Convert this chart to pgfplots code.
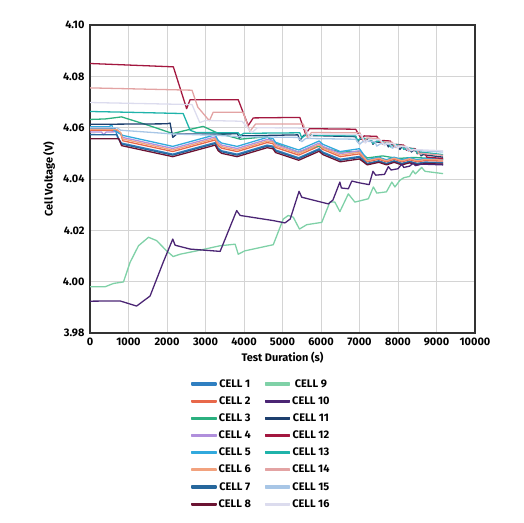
\documentclass[border=0pt]{standalone}
\usepackage{fontspec}
\setmainfont{Fira Sans}
\usepackage{pgfplots}
\pgfplotsset{compat=1.18}
\definecolor{c1}{HTML}{2F7FC1}
\definecolor{c2}{HTML}{E8684A}
\definecolor{c3}{HTML}{2BB07F}
\definecolor{c4}{HTML}{B08FDC}
\definecolor{c5}{HTML}{31A9DD}
\definecolor{c6}{HTML}{F2A27E}
\definecolor{c7}{HTML}{26679C}
\definecolor{c8}{HTML}{6B1332}
\definecolor{c9}{HTML}{7FD1A7}
\definecolor{c10}{HTML}{4B2574}
\definecolor{c11}{HTML}{1D3F6E}
\definecolor{c12}{HTML}{A3173F}
\definecolor{c13}{HTML}{1FB3AA}
\definecolor{c14}{HTML}{E3A3A3}
\definecolor{c15}{HTML}{A8C6E6}
\definecolor{c16}{HTML}{DCDCEE}
\begin{document}
\begin{tikzpicture}
\path[use as bounding box] (-90bp,-190bp) rectangle (434bp,333bp);
\begin{axis}[
  at={(0,0)}, anchor=south west,
  scale only axis, width=385bp, height=308bp,
  xmin=0, xmax=10000, ymin=3.98, ymax=4.10,
  xtick={0,1000,...,10000}, ytick={3.98,4.00,...,4.10},
  scaled x ticks=false, scaled y ticks=false,
  grid=major, grid style={draw=black!17, line width=1pt},
  axis line style={draw=black!80, line width=1.3pt},
  major tick length=0pt,
  /pgf/number format/assume math mode=true,
  xticklabel style={/pgf/number format/1000 sep={}, font=\bfseries\fontsize{11}{12}\selectfont, yshift=-1bp},
  yticklabel style={/pgf/number format/.cd, fixed, fixed zerofill, precision=2, /tikz/.cd, font=\bfseries\fontsize{11}{12}\selectfont, xshift=-2bp},
  xlabel={Test Duration (s)}, ylabel={Cell Voltage (V)},
  label style={font=\bfseries\fontsize{11}{13}\selectfont},
  xlabel style={yshift=0bp},
  ylabel style={yshift=1bp},
  every axis plot/.append style={line width=1.3pt, line join=round},
  legend columns=2,
  legend style={draw=none, fill=none, at={(0.255,-0.137)}, anchor=north west,
    font=\bfseries\fontsize{11}{13}\selectfont, row sep=3.9bp,
    /tikz/every even column/.append style={column sep=12bp}},
  legend image code/.code={\fill[#1] (0bp,-0.95bp) rectangle (24bp,0.95bp);},
]
% CELL 1
\addplot[c1, forget plot] coordinates {(0,4.0598) (650,4.0597) (720,4.0560) (820,4.0540) (2150,4.0497) (3250,4.0542) (3330,4.0520) (3420,4.0510) (3820,4.0497) (4600,4.0532) (4750,4.0528) (4820,4.0513) (5420,4.0483) (5950,4.0518) (6050,4.0505) (6500,4.0477) (7000,4.0488) (7200,4.0461) (7500,4.0471) (7700,4.0461) (7900,4.0471) (8100,4.0461) (8300,4.0469) (8500,4.0461) (8700,4.0466) (9170,4.0464)};
% CELL 2
\addplot[c2, forget plot] coordinates {(0,4.0590) (700,4.0589) (800,4.0575) (850,4.0549) (2150,4.0507) (3250,4.0552) (3330,4.0530) (3420,4.0520) (3820,4.0507) (4600,4.0542) (4750,4.0538) (4820,4.0523) (5420,4.0493) (5950,4.0528) (6050,4.0515) (6500,4.0487) (7000,4.0498) (7200,4.0467) (7500,4.0477) (7700,4.0467) (7900,4.0477) (8100,4.0467) (8300,4.0475) (8500,4.0467) (8700,4.0472) (9170,4.0470)};
% CELL 3
\addplot[c3, forget plot] coordinates {(0,4.0632) (400,4.0634) (820,4.0642) (1500,4.0610) (2150,4.0577) (2500,4.0590) (2940,4.0605) (3300,4.0580) (3900,4.0555) (4600,4.0565) (4800,4.0540) (5400,4.0505) (5900,4.0528) (6500,4.0505) (7000,4.0507) (7200,4.0482) (7600,4.0490) (8000,4.0480) (8400,4.0484) (9170,4.0478)};
% CELL 4
\addplot[c4, forget plot] coordinates {(0,4.0583) (300,4.0583) (350,4.0572) (420,4.0583) (700,4.0584) (800,4.0578) (850,4.0562) (2150,4.0519) (3250,4.0564) (3330,4.0542) (3420,4.0532) (3820,4.0519) (4600,4.0554) (4750,4.0550) (4820,4.0535) (5420,4.0505) (5950,4.0540) (6050,4.0527) (6500,4.0499) (7000,4.0510) (7200,4.0473) (7500,4.0483) (7700,4.0473) (7900,4.0483) (8100,4.0473) (8300,4.0481) (8500,4.0473) (8700,4.0478) (9170,4.0476)};
% CELL 5
\addplot[c5, forget plot] coordinates {(0,4.0603) (500,4.0603) (560,4.0612) (620,4.0590) (850,4.0570) (2150,4.0527) (3250,4.0572) (3330,4.0550) (3420,4.0540) (3820,4.0527) (4600,4.0562) (4750,4.0558) (4820,4.0543) (5420,4.0513) (5950,4.0548) (6050,4.0535) (6500,4.0507) (7000,4.0518) (7200,4.0475) (7500,4.0485) (7700,4.0475) (7900,4.0485) (8100,4.0475) (8300,4.0483) (8500,4.0475) (8700,4.0480) (9170,4.0478)};
% CELL 6
\addplot[c6, forget plot] coordinates {(0,4.0594) (700,4.0593) (800,4.0580) (850,4.0556) (2150,4.0513) (3250,4.0558) (3330,4.0536) (3420,4.0526) (3820,4.0513) (4600,4.0548) (4750,4.0544) (4820,4.0529) (5420,4.0499) (5950,4.0534) (6050,4.0521) (6500,4.0493) (7000,4.0504) (7200,4.0471) (7500,4.0481) (7700,4.0471) (7900,4.0481) (8100,4.0471) (8300,4.0479) (8500,4.0471) (8700,4.0476) (9170,4.0474)};
% CELL 7
\addplot[c7, forget plot] coordinates {(0,4.0573) (700,4.0572) (780,4.0545) (820,4.0536) (2150,4.0493) (3250,4.0538) (3330,4.0516) (3420,4.0506) (3820,4.0493) (4600,4.0528) (4750,4.0524) (4820,4.0509) (5420,4.0479) (5950,4.0514) (6050,4.0501) (6500,4.0473) (7000,4.0484) (7200,4.0459) (7500,4.0469) (7700,4.0459) (7900,4.0469) (8100,4.0459) (8300,4.0467) (8500,4.0459) (8700,4.0464) (9170,4.0462)};
% CELL 8
\addplot[c8, forget plot] coordinates {(0,4.0557) (750,4.0557) (820,4.0530) (2150,4.0487) (3250,4.0532) (3330,4.0510) (3420,4.0500) (3820,4.0487) (4600,4.0522) (4750,4.0518) (4820,4.0503) (5420,4.0473) (5950,4.0508) (6050,4.0495) (6500,4.0467) (7000,4.0478) (7200,4.0455) (7500,4.0465) (7700,4.0455) (7900,4.0465) (8100,4.0455) (8300,4.0463) (8500,4.0455) (8700,4.0460) (9170,4.0458)};
% CELL 9
\addplot[c9, forget plot] coordinates {(0,3.9980) (390,3.9980) (610,3.9993) (870,3.9999) (1040,4.0075) (1260,4.0140) (1520,4.0173) (1730,4.0160) (1990,4.0120) (2160,4.0098) (2340,4.0107) (2770,4.0120) (3380,4.0140) (3770,4.0146) (3850,4.0107) (4020,4.0120) (4760,4.0144) (5020,4.0244) (5150,4.0258) (5280,4.0251) (5440,4.0205) (5630,4.0222) (6020,4.0231) (6230,4.0310) (6360,4.0310) (6490,4.0273) (6710,4.0342) (6880,4.0310) (7230,4.0323) (7360,4.0369) (7450,4.0345) (7700,4.0350) (7840,4.0388) (7920,4.0369) (8050,4.0395) (8150,4.0405) (8300,4.0410) (8390,4.0432) (8450,4.0420) (8615,4.0445) (8700,4.0430) (9170,4.0421)};
% CELL 10
\addplot[c10, forget plot] coordinates {(0,3.9924) (780,3.9925) (1210,3.9905) (1560,3.9944) (1900,4.0075) (2150,4.0166) (2210,4.0142) (2600,4.0127) (3380,4.0118) (3810,4.0277) (3900,4.0258) (4760,4.0238) (5065,4.0229) (5200,4.0244) (5430,4.0352) (5500,4.0329) (6190,4.0303) (6310,4.0318) (6490,4.0388) (6530,4.0365) (6710,4.0362) (6800,4.0392) (7000,4.0385) (7250,4.0378) (7350,4.0430) (7420,4.0415) (7650,4.0418) (7750,4.0448) (7820,4.0435) (8000,4.0440) (8100,4.0458) (8150,4.0445) (8300,4.0450) (8400,4.0462) (8450,4.0452) (8600,4.0458) (9170,4.0455)};
% CELL 11
\addplot[c11, forget plot] coordinates {(0,4.0613) (2000,4.0615) (2080,4.0618) (2150,4.0562) (2250,4.0575) (3830,4.0576) (3880,4.0560) (3950,4.0568) (5400,4.0572) (5450,4.0550) (5550,4.0570) (6900,4.0565) (6950,4.0545) (7000,4.0555) (7300,4.0553) (7350,4.0535) (7400,4.0545) (7700,4.0540) (7750,4.0525) (7800,4.0535) (8000,4.0530) (8050,4.0515) (8100,4.0525) (8300,4.0520) (8350,4.0505) (8400,4.0512) (8550,4.0505) (8600,4.0490) (8650,4.0495) (9170,4.0485)};
% CELL 12
\addplot[c12, forget plot] coordinates {(0,4.0850) (2165,4.0837) (2510,4.0674) (2600,4.0709) (3850,4.0709) (4110,4.0608) (4240,4.0638) (5450,4.0640) (5600,4.0575) (5700,4.0596) (6900,4.0594) (7050,4.0555) (7120,4.0568) (7450,4.0566) (7550,4.0540) (7600,4.0550) (7800,4.0548) (7880,4.0528) (7950,4.0535) (8150,4.0532) (8220,4.0512) (8280,4.0520) (8450,4.0518) (8500,4.0498) (8550,4.0505) (8700,4.0500) (8750,4.0485) (9170,4.0480)};
% CELL 13
\addplot[c13, forget plot] coordinates {(0,4.0663) (1000,4.0660) (2420,4.0655) (2600,4.0590) (2760,4.0581) (3850,4.0580) (3900,4.0570) (4000,4.0578) (5450,4.0580) (5500,4.0560) (5600,4.0572) (6900,4.0568) (6950,4.0550) (7050,4.0560) (7300,4.0555) (7350,4.0538) (7450,4.0548) (7750,4.0542) (7800,4.0525) (7900,4.0535) (8100,4.0530) (8150,4.0515) (8250,4.0522) (8450,4.0515) (8500,4.0500) (8600,4.0505) (9170,4.0495)};
% CELL 14
\addplot[c14, forget plot] coordinates {(0,4.0755) (2650,4.0746) (2800,4.0680) (3100,4.0627) (3200,4.0660) (3980,4.0660) (4150,4.0585) (4300,4.0614) (5540,4.0614) (5650,4.0560) (5750,4.0581) (7010,4.0580) (7100,4.0545) (7200,4.0560) (7500,4.0558) (7600,4.0535) (7650,4.0545) (7850,4.0543) (7950,4.0522) (8000,4.0530) (8200,4.0528) (8280,4.0508) (8330,4.0515) (8500,4.0512) (8560,4.0495) (8600,4.0500) (9170,4.0492)};
% CELL 15
\addplot[c15, forget plot] coordinates {(0,4.0600) (700,4.0600) (800,4.0590) (2200,4.0575) (3300,4.0570) (3900,4.0565) (5400,4.0562) (5500,4.0545) (5600,4.0558) (6900,4.0555) (7000,4.0535) (7100,4.0548) (7400,4.0545) (7450,4.0528) (7550,4.0538) (7800,4.0535) (7850,4.0520) (7950,4.0528) (8200,4.0525) (8250,4.0510) (8350,4.0515) (8600,4.0510) (9170,4.0505)};
% CELL 16
\addplot[c16, forget plot] coordinates {(0,4.0698) (2650,4.0690) (2850,4.0620) (3000,4.0628) (3950,4.0625) (4200,4.0580) (4350,4.0600) (5600,4.0598) (5700,4.0560) (5800,4.0575) (7050,4.0572) (7150,4.0540) (7250,4.0555) (7550,4.0552) (7650,4.0530) (7700,4.0540) (7900,4.0538) (8000,4.0520) (8050,4.0528) (8250,4.0525) (8350,4.0510) (8400,4.0515) (9170,4.0510)};
% legend, column-wise order
\addlegendimage{c1}\addlegendentry{CELL 1}
\addlegendimage{c9}\addlegendentry{CELL 9}
\addlegendimage{c2}\addlegendentry{CELL 2}
\addlegendimage{c10}\addlegendentry{CELL 10}
\addlegendimage{c3}\addlegendentry{CELL 3}
\addlegendimage{c11}\addlegendentry{CELL 11}
\addlegendimage{c4}\addlegendentry{CELL 4}
\addlegendimage{c12}\addlegendentry{CELL 12}
\addlegendimage{c5}\addlegendentry{CELL 5}
\addlegendimage{c13}\addlegendentry{CELL 13}
\addlegendimage{c6}\addlegendentry{CELL 6}
\addlegendimage{c14}\addlegendentry{CELL 14}
\addlegendimage{c7}\addlegendentry{CELL 7}
\addlegendimage{c15}\addlegendentry{CELL 15}
\addlegendimage{c8}\addlegendentry{CELL 8}
\addlegendimage{c16}\addlegendentry{CELL 16}
\end{axis}
\end{tikzpicture}
\end{document}
